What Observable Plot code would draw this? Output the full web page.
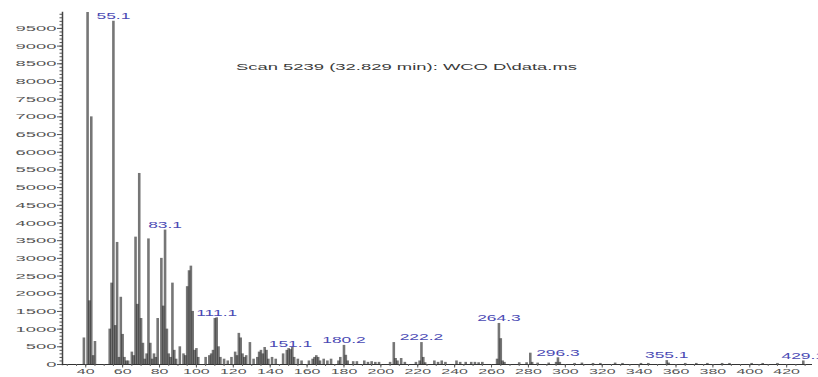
<!DOCTYPE html>
<html><head><meta charset="utf-8">
<script src="https://cdn.jsdelivr.net/npm/d3@7"></script>
<script src="https://cdn.jsdelivr.net/npm/@observablehq/plot@0.6"></script>
<style>
body{margin:0;background:#fff}
</style>
</head><body><div id="chart"></div>
<script>
// m/z values and abundances
const mz = [39,41,42,43,44,45,53,54,55,56,57,58,59,60,61,62,63,65,66,67,68,69,70,71,72,73,74,75,76,77,78,79,81,82,83,84,85,86,87,88,89,91,93,94,95,96,97,98,99,100,101,105,107,108,109,110,111,112,113,115,117,119,121,122,123,124,125,126,127,129,131,133,134,135,136,137,138,139,141,143,147,149,150,151,152,153,155,157,161,163,164,165,166,167,169,171,173,177,178,180,181,182,185,187,191,193,195,197,199,205,207,208,209,211,213,219,221,222,223,224,229,231,233,235,241,243,246,249,251,253,255,263,264,265,266,267,275,279,281,282,285,291,295,296,297,305,309,315,319,327,331,341,345,355,356,365,371,377,385,389,401,407,415,429];
const abundance = [750,9950,1800,7000,250,650,1000,2300,9700,1100,3450,200,1900,850,200,100,100,350,250,3600,1700,5400,1300,600,150,300,3550,600,150,300,200,1300,3000,1650,3800,1000,300,200,2300,400,150,500,300,250,2200,2650,2780,1500,400,450,200,200,250,300,400,1300,1320,500,200,150,100,200,350,250,880,750,300,200,250,620,150,200,350,400,300,480,400,150,200,150,300,400,450,420,480,200,150,100,100,150,200,250,200,100,150,100,150,100,200,540,260,100,80,80,100,60,80,60,60,60,620,170,100,170,60,60,100,620,200,50,100,60,100,60,100,60,60,60,60,50,60,150,1160,730,100,60,50,50,320,60,40,40,60,190,60,30,40,30,30,40,30,30,30,110,40,30,30,30,30,30,30,30,30,100];
const labelMz = [55,83,111,151,180,222,264,296,355,429];
const labelText = ["55.1","83.1","111.1","151.1","180.2","222.2","264.3","296.3","355.1","429.1"];
const yTicks = d3.range(0, 9501, 500);
const yMinorTicks = d3.range(0, 9901, 100);
const xTicks = d3.range(40, 421, 20);
const xMinorTicks = d3.range(30, 431, 5);
const title = "Scan 5239 (32.829 min): WCO D\\data.ms";

const peaks = mz.map((m, i) => ({mz: m, ab: abundance[i]}));
const labels = labelMz.map((m, i) => ({mz: m, ab: abundance[mz.indexOf(m)], text: labelText[i]}));

const chart = Plot.plot({
  width: 818, height: 377,
  marginLeft: 62, marginRight: 6, marginTop: 12, marginBottom: 13,
  x: {domain: [27.4, 434]},
  y: {domain: [0, 9950]},
  style: {fontFamily: "'Liberation Sans', Arial, sans-serif", fontSize: "8px", color: "#555", background: "#fff", overflow: "visible"},
  marks: [
    Plot.ruleX(peaks, {x: "mz", y1: 0, y2: "ab", stroke: "#1a1a1a", strokeWidth: 2.6, strokeOpacity: 0.6}),
    Plot.axisY({ticks: yMinorTicks, tickSize: 2.5, tickFormat: () => "", label: null, stroke: "#555"}),
    Plot.axisY({ticks: yTicks, tickSize: 5, tickPadding: 1, tickFormat: d => String(d), label: null, stroke: "#555"}),
    Plot.frame({anchor: "left", stroke: "#444", strokeWidth: 1.5}),
    Plot.ruleY([0], {stroke: "#333"}),
    Plot.axisX({ticks: xMinorTicks, tickSize: 2, tickFormat: () => "", label: null, stroke: "#666"}),
    Plot.axisX({ticks: xTicks, tickSize: 3.5, tickPadding: 0, label: null, stroke: "#555"}),
    Plot.text(labels, {x: "mz", y: "ab", text: "text", dy: -5, fill: "#4a4ab4", fontSize: 8.5}),
    Plot.text([title], {frameAnchor: "top", dx: -31, dy: 51, fontSize: 9, fill: "#3a3a3a"})
  ]
});
document.getElementById("chart").appendChild(chart);

// horizontally stretched lettering, as in the reference image: scale each text about its anchor point
function stretch(sel, factor) {
  chart.querySelectorAll(sel).forEach(t => {
    if (!t.textContent) return;
    const tr = t.getAttribute("transform") || "";
    t.setAttribute("transform", `${tr} scale(${factor},1)`);
  });
}
stretch('g[aria-label="y-axis tick label"] text', 2.3);
stretch('g[aria-label="x-axis tick label"] text', 2.0);
stretch('g[aria-label="text"] text', 2.05);
</script>
</body></html>
